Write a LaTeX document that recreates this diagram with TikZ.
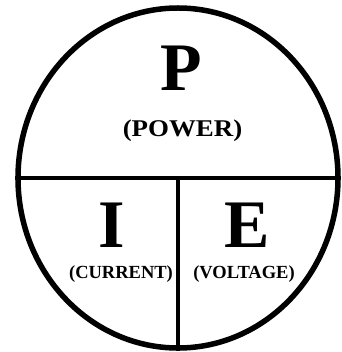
\documentclass[tikz,border=0pt]{standalone}
\usepackage{fontspec}
\setmainfont{Liberation Serif}
\usepackage{tikz}
\usetikzlibrary{shapes.geometric,positioning}

\begin{document}
\begin{tikzpicture}[
  x=1pt, y=-1pt,
  pie/.style={draw, ellipse, line width=5.5pt, minimum width=320pt, minimum height=340pt, inner sep=0pt},
  divider/.style={line width=3.8pt},
  letter/.style={font=\bfseries\fontsize{68}{68}\selectfont, anchor=base, inner sep=0pt},
  word/.style={font=\bfseries\fontsize{18.5}{18.5}\selectfont, anchor=base, inner sep=0pt},
  bigword/.style={font=\bfseries\fontsize{24}{24}\selectfont, anchor=base, inner sep=0pt, xscale=1.12}
]
\useasboundingbox (0,0) rectangle (341,352);
\node[pie] (circle) at (178,178) {};

\draw[divider] (circle.west) -- (circle.east);
\draw[divider] (circle.center) -- (circle.south);

\node[letter] (p) at (181.5,91) {P};
\node[bigword] (power) at (182.5,137) {(POWER)};
\node[letter] (i) at (111.5,247) {I};
\node[letter] (e) at (247.5,247) {E};
\node[word] (current) at (121,278) {(CURRENT)};
\node[word] (voltage) at (244,278) {(VOLTAGE)};
\end{tikzpicture}
\end{document}
